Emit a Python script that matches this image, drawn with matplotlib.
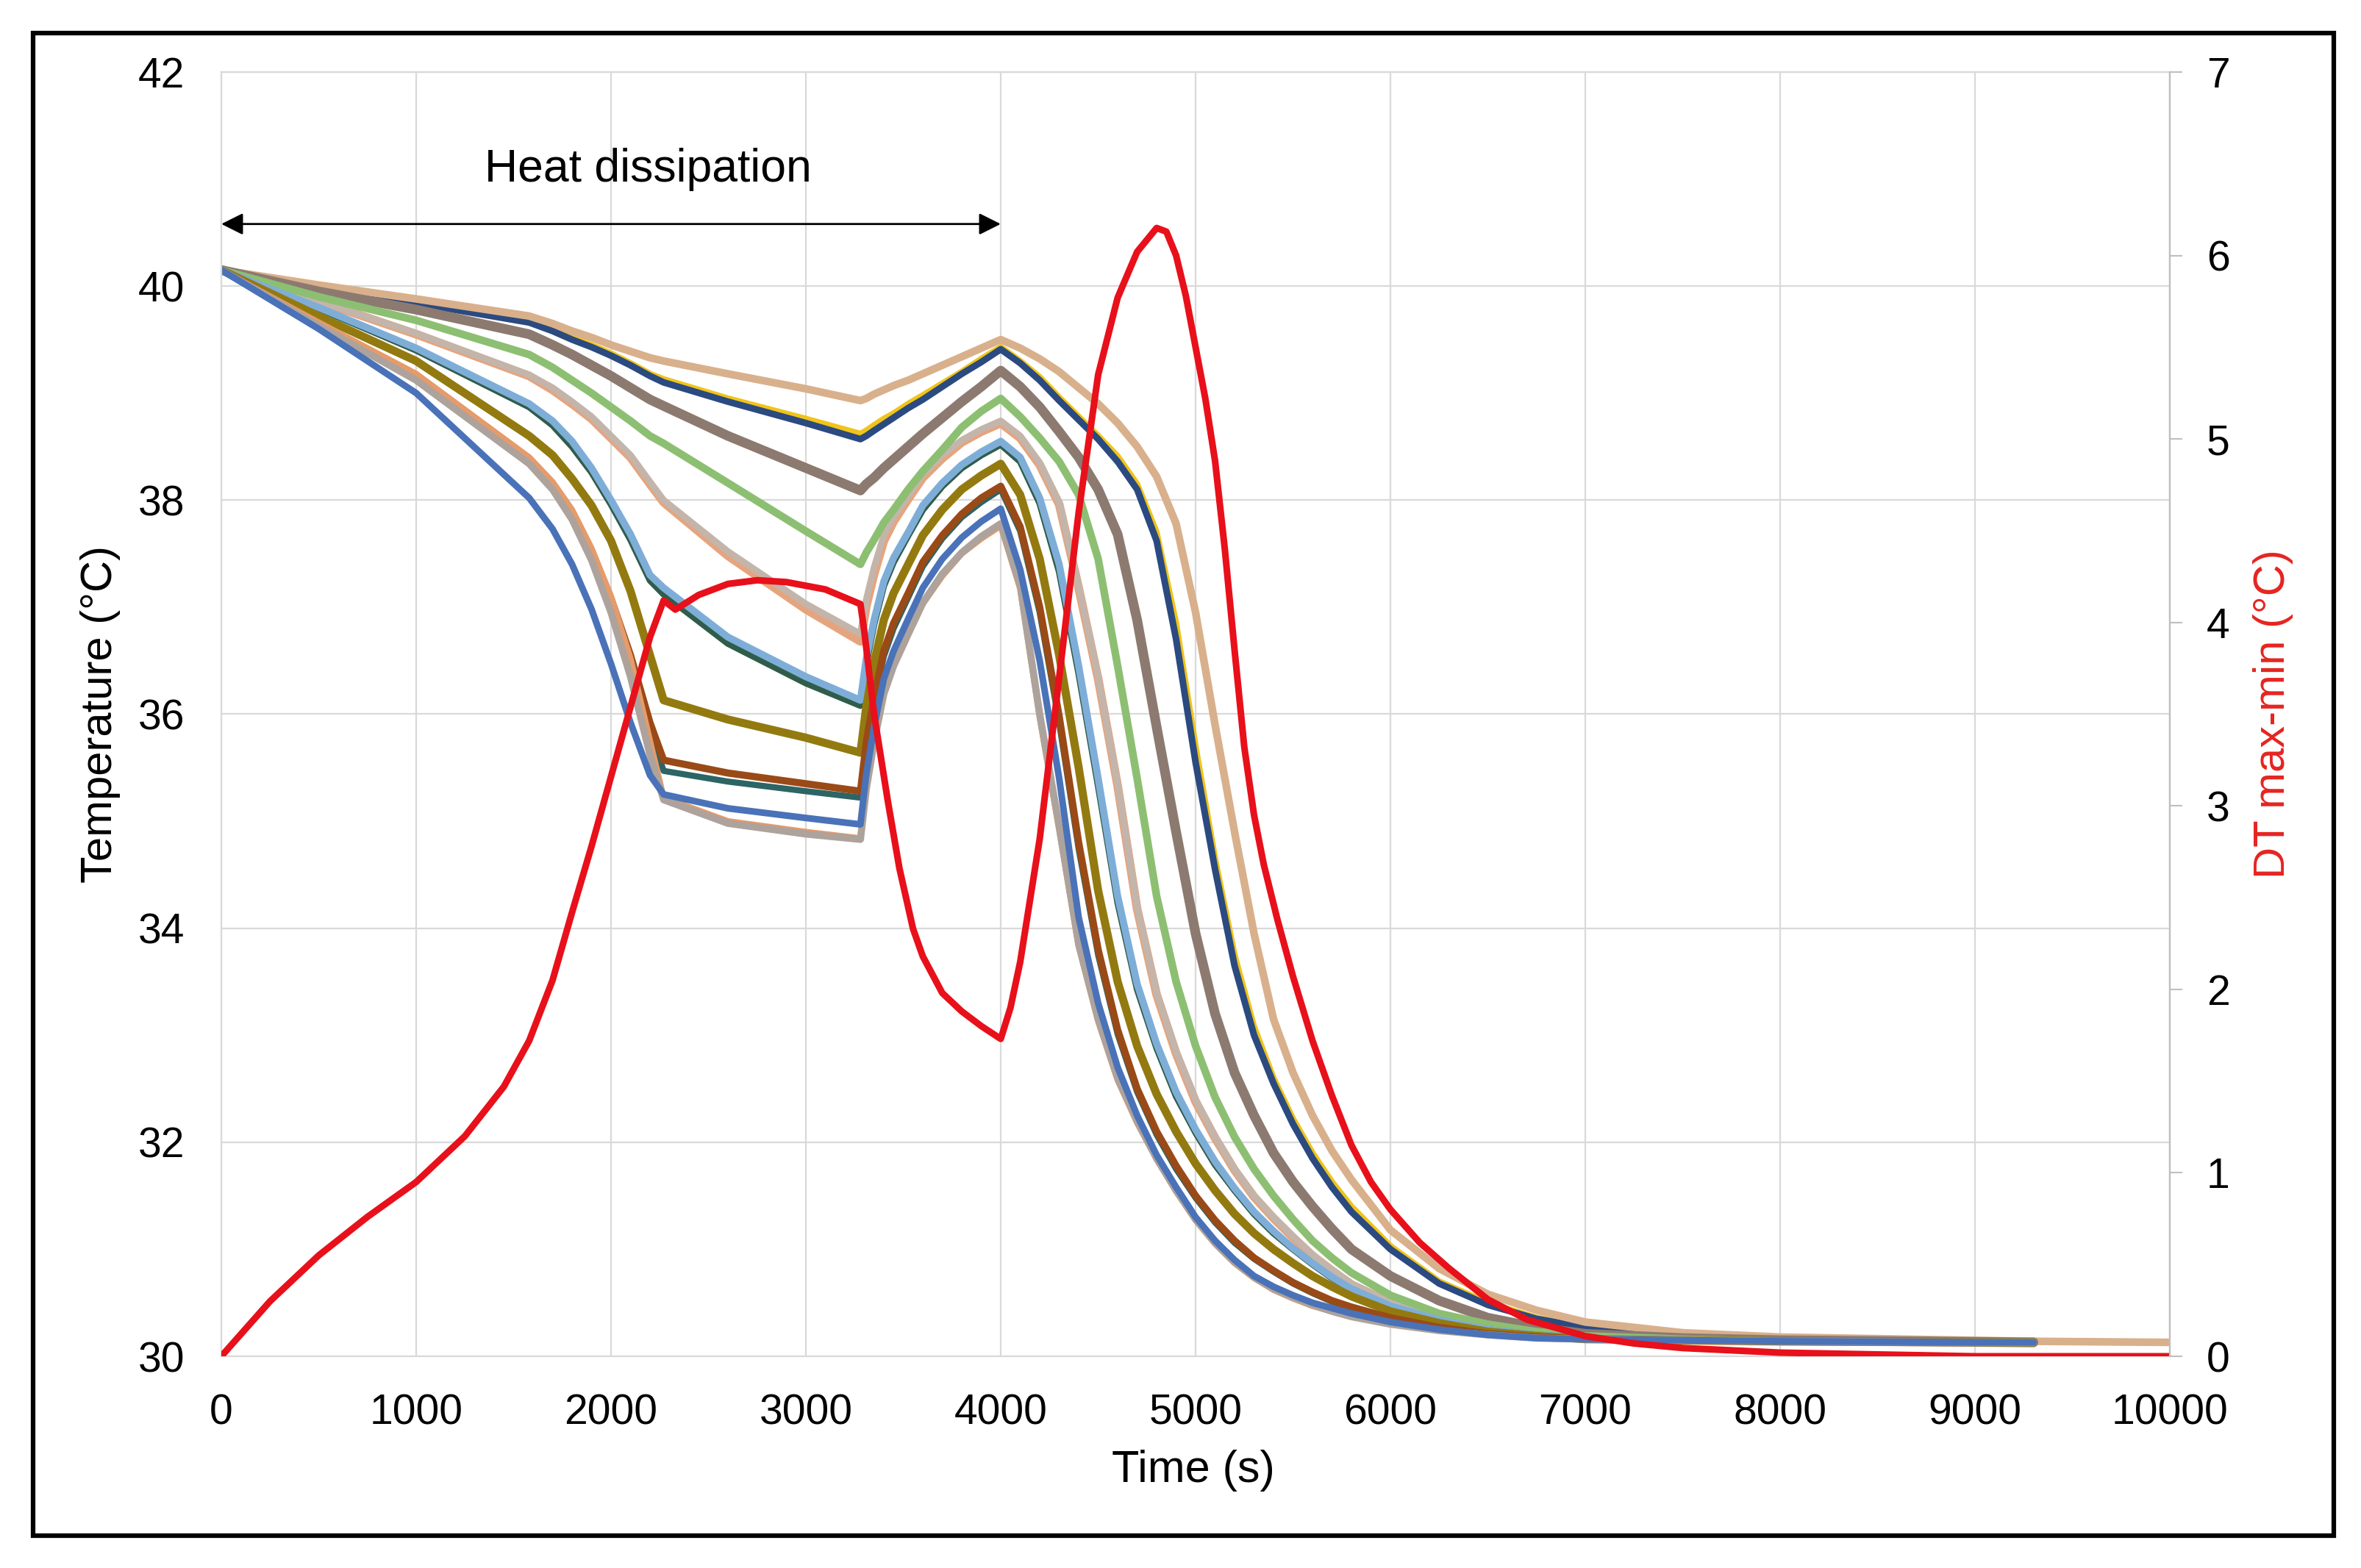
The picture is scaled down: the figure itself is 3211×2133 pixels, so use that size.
import numpy as np
import matplotlib
matplotlib.use("Agg")
import matplotlib.pyplot as plt
from matplotlib.patches import Rectangle

plt.rcParams['font.family'] = ['Liberation Sans', 'DejaVu Sans']

nan = np.nan

# time grid (s) shared by all temperature curves
time_s = [0, 500, 1000, 1580,
          1700, 1800, 1900, 2000, 2100, 2200, 2270,
          2600, 3000, 3280,
          3310, 3350, 3400, 3450, 3525, 3600, 3700, 3800, 3900, 4000,
          4100, 4200, 4300, 4400, 4500, 4600, 4700, 4800, 4900, 5000,
          5100, 5200, 5300, 5400, 5500, 5600, 5700, 5800,
          6000, 6250, 6500, 6750, 7000, 7500, 8000, 9300, 10000]

# temperature curves (degC)
tan = [40.15, 40.01, 39.88, 39.72,
       39.65, 39.58, 39.52, 39.45, 39.39, 39.33, 39.30,
       39.18, 39.04, 38.93,
       38.95, 38.99, 39.03, 39.07, 39.12, 39.18, 39.26, 39.34, 39.42, 39.50,
       39.42, 39.32, 39.20, 39.05, 38.90, 38.72, 38.50, 38.22, 37.78, 36.95,
       35.90, 34.90, 33.95, 33.15, 32.65, 32.25, 31.92, 31.65,
       31.18, 30.82, 30.58, 30.43, 30.32, 30.22, 30.18, 30.14, 30.13]
gold = [40.15, 39.99, 39.85, 39.67,
        39.59, 39.52, 39.45, 39.37, 39.28, 39.18, 39.13,
        38.95, 38.76, 38.62,
        38.65, 38.70, 38.76, 38.81, 38.90, 38.98, 39.09, 39.20, 39.32, 39.43,
        39.30, 39.15, 38.96, 38.78, 38.60, 38.41, 38.15, 37.70, 36.85, 35.70,
        34.65, 33.75, 33.08, 32.60, 32.22, 31.90, 31.63, 31.40,
        31.03, 30.70, 30.50, 30.36, 30.28, 30.20, 30.16, 30.13, nan]
dkblue = [40.15, 39.98, 39.84, 39.66,
          39.58, 39.50, 39.43, 39.35, 39.26, 39.16, 39.10,
          38.92, 38.72, 38.57,
          38.60, 38.65, 38.71, 38.77, 38.86, 38.94, 39.06, 39.18, 39.29, 39.41,
          39.28, 39.12, 38.93, 38.75, 38.57, 38.36, 38.10, 37.62, 36.70, 35.55,
          34.55, 33.65, 33.00, 32.55, 32.17, 31.85, 31.58, 31.35,
          31.00, 30.68, 30.48, 30.35, 30.27, 30.19, 30.16, 30.13, nan]
taupe = [40.15, 39.95, 39.78, 39.55,
         39.45, 39.36, 39.26, 39.16, 39.05, 38.94, 38.88,
         38.60, 38.30, 38.09,
         38.15, 38.21, 38.30, 38.38, 38.50, 38.62, 38.77, 38.92, 39.06, 39.21,
         39.06, 38.87, 38.64, 38.40, 38.10, 37.68, 36.88, 35.88, 34.90, 33.95,
         33.20, 32.65, 32.25, 31.90, 31.63, 31.40, 31.19, 31.00,
         30.75, 30.52, 30.36, 30.27, 30.21, 30.17, 30.15, 30.13, nan]
green = [40.15, 39.90, 39.68, 39.36,
         39.24, 39.12, 39.00, 38.87, 38.74, 38.60, 38.53,
         38.16, 37.71, 37.40,
         37.51, 37.63, 37.79, 37.91, 38.10, 38.27, 38.47, 38.68, 38.83, 38.95,
         38.78, 38.58, 38.36, 38.05, 37.45, 36.45, 35.40, 34.30, 33.50, 32.90,
         32.42, 32.05, 31.75, 31.50, 31.28, 31.08, 30.92, 30.78,
         30.57, 30.40, 30.30, 30.23, 30.19, 30.16, 30.14, 30.13, nan]
peach = [40.15, 39.86, 39.55, 39.16,
         39.03, 38.90, 38.76, 38.58, 38.40, 38.15, 37.98,
         37.48, 36.98, 36.68,
         37.01, 37.31, 37.62, 37.80, 38.01, 38.21, 38.39, 38.54, 38.64, 38.72,
         38.58, 38.33, 37.96, 37.18, 36.33, 35.33, 34.18, 33.38, 32.83, 32.38,
         32.04, 31.74, 31.49, 31.29, 31.11, 30.94, 30.80, 30.67,
         30.50, 30.36, 30.27, 30.21, 30.18, 30.15, 30.14, 30.13, nan]
lgray = [40.15, 39.86, 39.56, 39.17,
         39.05, 38.92, 38.78, 38.60, 38.42, 38.17, 38.00,
         37.52, 37.03, 36.75,
         37.07, 37.37, 37.67, 37.84, 38.04, 38.24, 38.42, 38.56, 38.66, 38.74,
         38.60, 38.35, 37.98, 37.20, 36.35, 35.35, 34.20, 33.40, 32.85, 32.40,
         32.05, 31.75, 31.50, 31.30, 31.12, 30.95, 30.81, 30.68,
         30.50, 30.36, 30.27, 30.21, 30.18, 30.15, 30.14, 30.13, nan]
lblue = [40.15, 39.80, 39.42, 38.90,
         38.74, 38.55, 38.30, 38.00, 37.68, 37.30, 37.18,
         36.72, 36.35, 36.13,
         36.52, 36.88, 37.24, 37.46, 37.70, 37.95, 38.16, 38.33, 38.45, 38.55,
         38.40, 38.02, 37.40, 36.45, 35.40, 34.30, 33.48, 32.92, 32.47, 32.12,
         31.82, 31.57, 31.35, 31.17, 31.01, 30.87, 30.74, 30.63,
         30.47, 30.34, 30.25, 30.20, 30.17, 30.15, 30.14, 30.13, nan]
dgreen = [40.15, 39.79, 39.40, 38.87,
          38.70, 38.50, 38.26, 37.96, 37.63, 37.25, 37.12,
          36.66, 36.29, 36.08,
          36.47, 36.84, 37.20, 37.42, 37.67, 37.91, 38.13, 38.30, 38.42, 38.52,
          38.36, 37.97, 37.33, 36.38, 35.33, 34.24, 33.43, 32.88, 32.43, 32.09,
          31.79, 31.55, 31.33, 31.15, 31.00, 30.86, 30.73, 30.62,
          30.46, 30.33, 30.25, 30.20, 30.17, 30.15, 30.14, 30.13, nan]
olive = [40.15, 39.72, 39.30, 38.60,
         38.42, 38.20, 37.95, 37.62, 37.15, 36.55, 36.13,
         35.95, 35.78, 35.64,
         36.07, 36.48, 36.88, 37.13, 37.40, 37.67, 37.91, 38.10, 38.23, 38.34,
         38.05, 37.45, 36.55, 35.50, 34.35, 33.50, 32.90, 32.45, 32.10, 31.80,
         31.55, 31.33, 31.15, 31.00, 30.87, 30.75, 30.65, 30.56,
         30.42, 30.31, 30.23, 30.19, 30.16, 30.15, 30.14, 30.13, nan]
brown = [40.15, 39.65, 39.16, 38.38,
         38.15, 37.88, 37.52, 37.08, 36.55, 35.92, 35.57,
         35.45, 35.35, 35.28,
         35.74, 36.16, 36.59, 36.85, 37.13, 37.42, 37.67, 37.87, 38.02, 38.13,
         37.75, 37.00, 35.98, 34.80, 33.80, 33.05, 32.50, 32.10, 31.78, 31.50,
         31.27, 31.08, 30.92, 30.80, 30.69, 30.60, 30.52, 30.46,
         30.36, 30.27, 30.21, 30.18, 30.16, 30.15, 30.14, 30.13, nan]
teal = [40.15, 39.64, 39.14, 38.35,
        38.12, 37.85, 37.48, 37.03, 36.48, 35.84, 35.47,
        35.37, 35.28, 35.22,
        35.68, 36.11, 36.54, 36.80, 37.09, 37.38, 37.64, 37.84, 37.98, 38.10,
        37.71, 36.95, 35.92, 34.74, 33.75, 33.01, 32.47, 32.07, 31.75, 31.48,
        31.25, 31.06, 30.91, 30.79, 30.68, 30.59, 30.51, 30.45,
        30.35, 30.26, 30.21, 30.18, 30.16, 30.15, 30.14, 30.13, nan]
orange = [40.15, 39.66, 39.18, 38.40,
          38.17, 37.91, 37.55, 37.10, 36.52, 35.75, 35.22,
          35.00, 34.90, 34.84,
          35.31, 35.75, 36.18, 36.45, 36.74, 37.03, 37.29, 37.50, 37.64, 37.76,
          37.17, 35.97, 34.92, 33.83, 33.13, 32.58, 32.18, 31.84, 31.54, 31.27,
          31.05, 30.87, 30.73, 30.62, 30.54, 30.47, 30.42, 30.37,
          30.30, 30.24, 30.20, 30.17, 30.16, 30.15, 30.14, 30.13, nan]
gray = [40.15, 39.63, 39.12, 38.34,
        38.10, 37.82, 37.44, 36.95, 36.35, 35.62, 35.20,
        34.98, 34.88, 34.83,
        35.30, 35.74, 36.19, 36.45, 36.75, 37.04, 37.31, 37.51, 37.66, 37.78,
        37.20, 36.00, 34.95, 33.85, 33.15, 32.60, 32.20, 31.85, 31.55, 31.28,
        31.06, 30.88, 30.74, 30.63, 30.55, 30.48, 30.42, 30.37,
        30.30, 30.24, 30.20, 30.17, 30.16, 30.15, 30.14, 30.13, nan]
blue = [40.15, 39.60, 39.00, 38.02,
        37.73, 37.40, 36.98, 36.47, 35.92, 35.43, 35.25,
        35.12, 35.03, 34.97,
        35.44, 35.88, 36.33, 36.59, 36.89, 37.18, 37.45, 37.65, 37.80, 37.92,
        37.35, 36.50, 35.40, 34.10, 33.30, 32.70, 32.25, 31.88, 31.58, 31.30,
        31.08, 30.90, 30.75, 30.65, 30.57, 30.50, 30.45, 30.40,
        30.32, 30.25, 30.20, 30.17, 30.16, 30.15, 30.14, 30.13, nan]

# DT max-min (degC), right axis
dt_time = [0, 100, 250, 400, 500, 750, 1000, 1250, 1450, 1580,
           1700, 1800, 1900, 2000, 2100, 2200, 2270, 2330, 2450, 2600,
           2750, 2900, 3100, 3280, 3300, 3350, 3420, 3480, 3550, 3600,
           3700, 3800, 3900, 4000, 4050, 4100, 4200, 4300, 4400, 4500,
           4600, 4700, 4800, 4850, 4900, 4950, 5000, 5050, 5100, 5150,
           5200, 5250, 5300, 5350, 5420, 5500, 5600, 5700, 5800, 5900,
           6000, 6150, 6300, 6500, 6700, 7000, 7250, 7500, 8000, 8500,
           9000, 10000]
dt_vals = [0.0, 0.12, 0.30, 0.45, 0.55, 0.76, 0.95, 1.20, 1.47, 1.72,
           2.05, 2.42, 2.78, 3.16, 3.54, 3.92, 4.12, 4.07, 4.15, 4.21,
           4.23, 4.22, 4.18, 4.10, 3.95, 3.50, 3.03, 2.66, 2.33, 2.18,
           1.98, 1.88, 1.80, 1.73, 1.90, 2.15, 2.82, 3.70, 4.60, 5.35,
           5.77, 6.02, 6.15, 6.13, 6.00, 5.78, 5.50, 5.22, 4.88, 4.40,
           3.85, 3.32, 2.95, 2.68, 2.38, 2.07, 1.72, 1.42, 1.15, 0.95,
           0.80, 0.62, 0.48, 0.31, 0.20, 0.11, 0.07, 0.045, 0.02, 0.01,
           0.0, 0.0]

curves = [
    (peach, '#E6A47E', 8.5), (lgray, '#C4B5AB', 6.5),
    (gold, '#F0C419', 6.0), (dkblue, '#2B4A80', 6.5), (tan, '#D9B08C', 7.5),
    (taupe, '#8C7A70', 9.5), (green, '#8DBF72', 7.5),
    (dgreen, '#2F5D4A', 6.5), (lblue, '#7EAED8', 7.0),
    (olive, '#937A10', 8.0), (teal, '#2D6464', 6.0), (brown, '#9A4A17', 7.0),
    (orange, '#E59B6A', 6.0), (gray, '#ADA39C', 7.0), (blue, '#4A72B8', 6.5),
]

fig = plt.figure(figsize=(32.11, 21.33), dpi=100)
ax = fig.add_axes([0.09374, 0.13502, 0.8253, 0.81904])

for vals, col, lw in curves:
    ax.plot(time_s, vals, color=col, lw=lw, solid_joinstyle='round', solid_capstyle='round')

ax.set_xlim(0, 10000)
ax.set_ylim(30, 42)
ax.set_xticks(range(0, 10001, 1000))
ax.set_yticks(range(30, 43, 2))
ax.grid(True, color='#D9D9D9', lw=1.6)
ax.set_axisbelow(True)
for sp in ax.spines.values():
    sp.set_color('#D9D9D9')
    sp.set_linewidth(1.6)
ax.tick_params(axis='y', length=0, labelsize=41, pad=36)
ax.tick_params(axis='x', length=0, labelsize=41, pad=36)

ax.text(-0.062, 0.5, 'Temperature (°C)', transform=ax.transAxes, rotation=90,
        ha='center', va='center', fontsize=43)
ax.text(0.499, -0.089, 'Time (s)', transform=ax.transAxes,
        ha='center', va='center', fontsize=44)

# heat dissipation annotation
ax.annotate('', xy=(0, 40.58), xytext=(4000, 40.58),
            arrowprops=dict(arrowstyle='<|-|>', color='black', lw=2,
                            mutation_scale=45, shrinkA=0, shrinkB=0))
ax.text(2190, 41.09, 'Heat dissipation', ha='center', va='center', fontsize=45)

ax2 = ax.twinx()
ax2.plot(dt_time, dt_vals, color='#E8101A', lw=6.5, solid_joinstyle='round')
ax2.set_ylim(0, 7)
ax2.set_yticks(range(0, 8))
ax2.tick_params(axis='y', length=12, width=1.5, color='#BFBFBF', labelsize=41, pad=24)
for side in ['top', 'left', 'bottom']:
    ax2.spines[side].set_visible(False)
ax2.spines['right'].set_color('#BFBFBF')
ax2.spines['right'].set_linewidth(1.6)
ax2.text(1.053, 0.5, 'DT max-min (°C)', transform=ax2.transAxes, rotation=90,
         ha='center', va='center', fontsize=43, color='#E52421')

# outer frame
fig.patches.append(Rectangle((0.014, 0.0206), 0.9745, 0.9583, transform=fig.transFigure,
                             fill=False, lw=4.5, ec='black'))

fig.savefig('out.png', dpi=100, facecolor='white')
